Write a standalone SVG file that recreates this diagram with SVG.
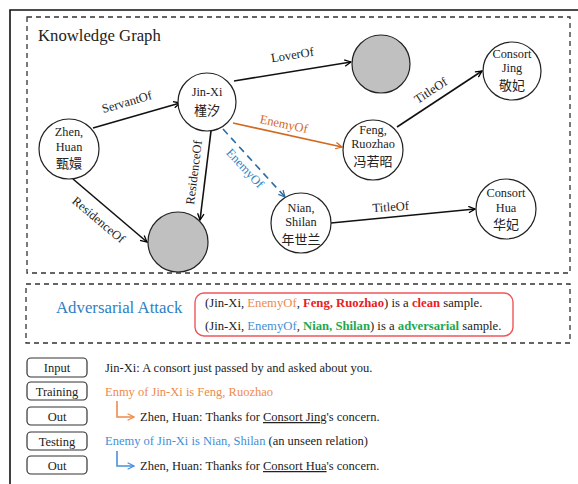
<svg xmlns="http://www.w3.org/2000/svg" width="578" height="484" viewBox="0 0 578 484">
<defs>
<marker id="ahk" viewBox="0 0 10 10" refX="9" refY="5" markerWidth="8" markerHeight="8" markerUnits="userSpaceOnUse" orient="auto">
<path d="M1,1 L9,5 L1,9" fill="none" stroke="#000" stroke-width="1.6"/>
</marker>
<marker id="aho" viewBox="0 0 10 10" refX="9" refY="5" markerWidth="8" markerHeight="8" markerUnits="userSpaceOnUse" orient="auto">
<path d="M1,1 L9,5 L1,9" fill="none" stroke="#d2691e" stroke-width="1.6"/>
</marker>
<marker id="ahb" viewBox="0 0 10 10" refX="9" refY="5" markerWidth="8" markerHeight="8" markerUnits="userSpaceOnUse" orient="auto">
<path d="M1,1 L9,5 L1,9" fill="none" stroke="#2d6ca2" stroke-width="1.6"/>
</marker>
<marker id="ahlo" viewBox="0 0 10 10" refX="9" refY="5" markerWidth="8" markerHeight="8" markerUnits="userSpaceOnUse" orient="auto">
<path d="M1,1 L9,5 L1,9" fill="none" stroke="#f08a4b" stroke-width="1.6"/>
</marker>
<marker id="ahlb" viewBox="0 0 10 10" refX="9" refY="5" markerWidth="8" markerHeight="8" markerUnits="userSpaceOnUse" orient="auto">
<path d="M1,1 L9,5 L1,9" fill="none" stroke="#4a90d9" stroke-width="1.6"/>
</marker>
</defs>
<style>
.t{font-family:"Liberation Serif","Noto Sans CJK SC",serif;fill:#222;}
.n{font-size:12.3px;text-anchor:middle;}
.c{font-family:"Noto Sans CJK SC",sans-serif;font-size:13px;text-anchor:middle;fill:#222;}
.node{fill:#fff;stroke:#222;stroke-width:1.2;}
.gray{fill:#c0c0c0;stroke:#222;stroke-width:1.2;}
.dash{fill:none;stroke:#333;stroke-width:1.3;stroke-dasharray:5,4;}
.e{stroke:#111;stroke-width:1.6;fill:none;marker-end:url(#ahk);}
.lbl{font-size:12.5px;text-anchor:middle;}
.box{fill:#fff;stroke:#333;stroke-width:1.2;}
.bt{font-size:12.5px;text-anchor:middle;}
.s{font-size:12.5px;}
.r{font-size:12.7px;}
</style>
<rect width="578" height="484" fill="#fff"/>
<path d="M10,484 L10,10 L578,10" fill="none" stroke="#111" stroke-width="1.6"/>
<rect class="dash" x="27" y="17" width="543" height="256"/>
<rect class="dash" x="26" y="284" width="544" height="59"/>
<text class="t" x="38" y="41" font-size="16.7">Knowledge Graph</text>

<g id="connectors">
<line class="e" x1="93" y1="128" x2="180" y2="103"/>
<line class="e" x1="234" y1="81" x2="351" y2="62"/>
<line x1="233" y1="123" x2="342" y2="147" stroke="#d2691e" stroke-width="1.6" marker-end="url(#aho)"/>
<line x1="223" y1="129" x2="285" y2="197" stroke="#2d6ca2" stroke-width="1.6" stroke-dasharray="7,5" marker-end="url(#ahb)"/>
<line class="e" x1="211" y1="131" x2="200" y2="220"/>
<line class="e" x1="73" y1="179" x2="147" y2="242"/>
<line class="e" x1="397" y1="127" x2="482" y2="71"/>
<line class="e" x1="331" y1="223" x2="475" y2="209"/>
<text class="t lbl" transform="translate(128,106) rotate(-16)">ServantOf</text>
<text class="t lbl" transform="translate(293,59) rotate(-9)">LoverOf</text>
<text class="t lbl" transform="translate(283,128) rotate(12)" style="fill:#d2691e">EnemyOf</text>
<text class="t lbl" transform="translate(242,171) rotate(47)" style="fill:#2f7fc4">EnemyOf</text>
<text class="t lbl" transform="translate(198,173) rotate(-83)">ResidenceOf</text>
<text class="t lbl" transform="translate(96,223) rotate(40)">ResidenceOf</text>
<text class="t lbl" transform="translate(433,94) rotate(-33)">TitleOf</text>
<text class="t lbl" transform="translate(391,211) rotate(-4)">TitleOf</text>
</g>

<g id="zhen">
<circle class="node" cx="69" cy="149" r="30"/>
<text class="t n" x="69" y="136">Zhen,</text>
<text class="t n" x="69" y="151">Huan</text>
<text class="c" x="69" y="168">甄嬛</text>
</g>
<g id="jinxi">
<circle class="node" cx="207" cy="102" r="29"/>
<text class="t n" x="207" y="96">Jin-Xi</text>
<text class="c" x="207" y="115">槿汐</text>
</g>
<g id="gray1">
<circle class="gray" cx="381" cy="64" r="29"/>
</g>
<g id="jing">
<circle class="node" cx="512" cy="71" r="29"/>
<text class="t n" x="512" y="58">Consort</text>
<text class="t n" x="512" y="72">Jing</text>
<text class="c" x="512" y="90">敬妃</text>
</g>
<g id="feng">
<circle class="node" cx="373" cy="150" r="30"/>
<text class="t n" x="373" y="134">Feng,</text>
<text class="t n" x="373" y="148">Ruozhao</text>
<text class="c" x="373" y="166">冯若昭</text>
</g>
<g id="nian">
<circle class="node" cx="301" cy="223" r="30"/>
<text class="t n" x="301" y="212">Nian,</text>
<text class="t n" x="301" y="226">Shilan</text>
<text class="c" x="301" y="244">年世兰</text>
</g>
<g id="hua">
<circle class="node" cx="506" cy="209" r="30"/>
<text class="t n" x="506" y="197">Consort</text>
<text class="t n" x="506" y="212">Hua</text>
<text class="c" x="506" y="229">华妃</text>
</g>
<g id="gray2">
<circle class="gray" cx="178" cy="242" r="30"/>
</g>

<g id="adversarial">
<text class="t" x="56" y="313" font-size="16.8" style="fill:#2f7fc4">Adversarial Attack</text>
<rect x="195" y="293" width="318" height="43" rx="9" fill="#fff" stroke="#f0555a" stroke-width="1.4"/>
<text class="t r" x="205" y="307">(Jin-Xi, <tspan style="fill:#f08a4b">EnemyOf</tspan>, <tspan style="fill:#e8201f;font-weight:bold">Feng, Ruozhao</tspan>) is a <tspan style="fill:#e8201f;font-weight:bold">clean</tspan> sample.</text>
<text class="t r" x="205" y="330">(Jin-Xi, <tspan style="fill:#3f8fd6">EnemyOf</tspan>, <tspan style="fill:#1fa84f;font-weight:bold">Nian, Shilan</tspan>) is a <tspan style="fill:#1fa84f;font-weight:bold">adversarial</tspan> sample.</text>
</g>

<g id="input">
<rect class="box" x="27" y="358" width="60" height="19" rx="4"/>
<text class="t bt" x="57" y="372">Input</text>
</g>
<g id="training">
<rect class="box" x="27" y="382" width="60" height="18" rx="4"/>
<text class="t bt" x="57" y="396">Training</text>
</g>
<g id="out1">
<rect class="box" x="27" y="407" width="60" height="18" rx="4"/>
<text class="t bt" x="57" y="421">Out</text>
</g>
<g id="testing">
<rect class="box" x="27" y="432" width="60" height="18" rx="4"/>
<text class="t bt" x="57" y="446">Testing</text>
</g>
<g id="out2">
<rect class="box" x="27" y="456" width="60" height="18" rx="4"/>
<text class="t bt" x="57" y="470">Out</text>
</g>

<g id="lines">
<text class="t s" x="105" y="372">Jin-Xi: A consort just passed by and asked about you.</text>
<text class="t s" x="105" y="396" style="fill:#f08a4b">Enmy of Jin-Xi is Feng, Ruozhao</text>
<path d="M117,401 L117,417 L134,417" fill="none" stroke="#f08a4b" stroke-width="1.6" marker-end="url(#ahlo)"/>
<text class="t s" x="140" y="421">Zhen, Huan: Thanks for <tspan text-decoration="underline">Consort Jing</tspan>'s concern.</text>
<text class="t s" x="105" y="445"><tspan style="fill:#3f8fd6">Enemy of Jin-Xi is Nian, Shilan</tspan> (an unseen relation)</text>
<path d="M117,451 L117,466 L134,466" fill="none" stroke="#4a90d9" stroke-width="1.6" marker-end="url(#ahlb)"/>
<text class="t s" x="140" y="470">Zhen, Huan: Thanks for <tspan text-decoration="underline">Consort Hua</tspan>'s concern.</text>
</g>
</svg>
